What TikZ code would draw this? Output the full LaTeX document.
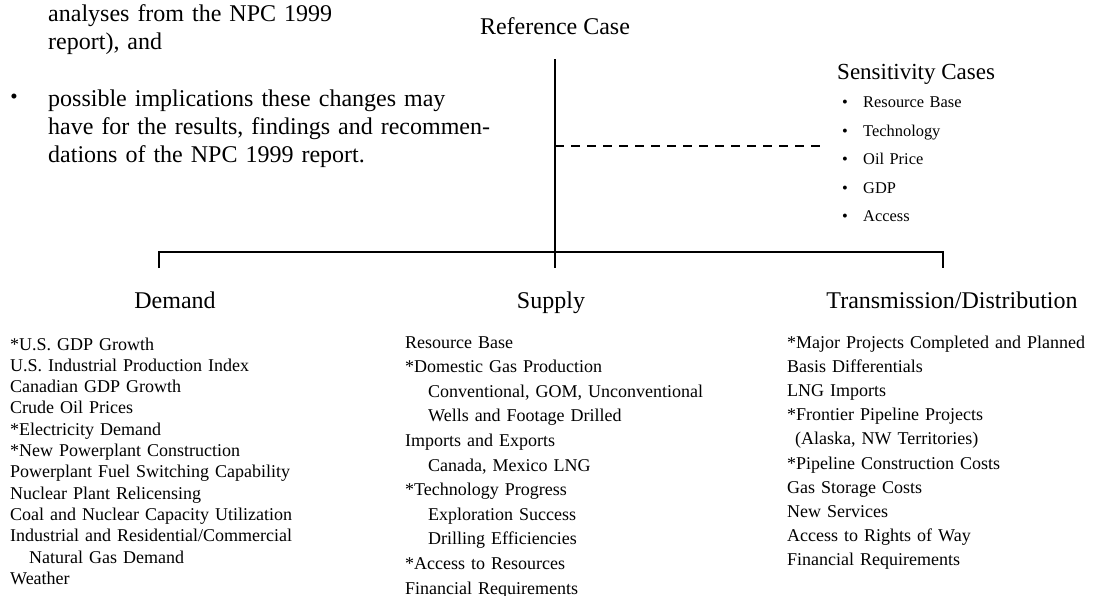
\documentclass[tikz,border=0pt]{standalone}
\usepackage{fontspec}
\setmainfont{Liberation Serif}
\usepackage{tikz}
\usetikzlibrary{positioning}
\newcommand{\sensdot}{\makebox[21pt][l]{•}}
\newcommand{\indentsub}{\hspace*{23pt}}

\begin{document}
\begin{tikzpicture}[x=1pt, y=-1pt, >=latex]
    \tikzstyle{para} = [inner sep=0pt, text width=480pt, align=left, font=\fontsize{24}{28}\selectfont]
    \tikzstyle{head} = [inner sep=0pt, font=\fontsize{24}{28}\selectfont]
    \tikzstyle{cases} = [inner sep=0pt, text width=180pt, align=left, font=\fontsize{16.4}{28.5}\selectfont]
    \tikzstyle{list} = [inner sep=0pt, text width=310pt, align=left, font=\fontsize{18}{21.3}\selectfont]
    \tikzstyle{tree} = [draw, line width=1.8pt]
    \tikzstyle{split} = [draw, line width=1.1pt, dash pattern=on 9pt off 7pt]
    \useasboundingbox (0,0) rectangle (1094,596);

    \node [para, anchor=base west] (intro) at (48,22) {analyses from the NPC 1999\\report), and};
    \node [para, anchor=base west] (point) at (48,107) {possible implications these changes may\\have for the results, findings and recommen-\\dations of the NPC 1999 report.};
    \node [head, anchor=base, font=\fontsize{21}{21}\selectfont] (dot) at (14,104) {•};

    \node [head, anchor=base] (ref) at (555,35) {Reference Case};
    \node [head, anchor=base west, font=\fontsize{23}{28}\selectfont] (sens) at (837,80) {Sensitivity Cases};
    \node [cases, anchor=base west] (items) at (842,108) {\sensdot Resource Base\\\sensdot Technology\\\sensdot Oil Price\\\sensdot GDP\\\sensdot Access};

    \node [head, anchor=base] (demand) at (175,308) {Demand};
    \node [head, anchor=base] (supply) at (551,308) {Supply};
    \node [head, anchor=base] (trans) at (952,308) {Transmission/Distribution};

    \node [list, anchor=base west] (dlist) at (10,350) {*U.S. GDP Growth\\U.S. Industrial Production Index\\Canadian GDP Growth\\Crude Oil Prices\\{}*Electricity Demand\\{}*New Powerplant Construction\\Powerplant Fuel Switching Capability\\Nuclear Plant Relicensing\\Coal and Nuclear Capacity Utilization\\Industrial and Residential/Commercial\\\hspace*{19pt}Natural Gas Demand\\Weather};
    \node [list, anchor=base west, font=\fontsize{18}{24.6}\selectfont] (slist) at (405,348) {Resource Base\\{}*Domestic Gas Production\\\indentsub Conventional, GOM, Unconventional\\\indentsub Wells and Footage Drilled\\Imports and Exports\\\indentsub Canada, Mexico LNG\\{}*Technology Progress\\\indentsub Exploration Success\\\indentsub Drilling Efficiencies\\{}*Access to Resources\\Financial Requirements};
    \node [list, anchor=base west, font=\fontsize{18}{24.2}\selectfont] (tlist) at (787,348) {*Major Projects Completed and Planned\\Basis Differentials\\LNG Imports\\{}*Frontier Pipeline Projects\\\hspace*{8pt}(Alaska, NW Territories)\\{}*Pipeline Construction Costs\\Gas Storage Costs\\New Services\\Access to Rights of Way\\Financial Requirements};

    \coordinate (split) at (555,146);
    \coordinate (fork) at (555,252);
    \coordinate (dropL) at (159,268);
    \coordinate (dropR) at (943,268);

    \path [tree] ([yshift=-24pt]ref.south) -- (fork |- dropL);
    \path [tree] (dropL) |- (fork) -| (dropR);
    \path [split] (split) -- ([xshift=-20pt]items.west |- split);
\end{tikzpicture}
\end{document}
